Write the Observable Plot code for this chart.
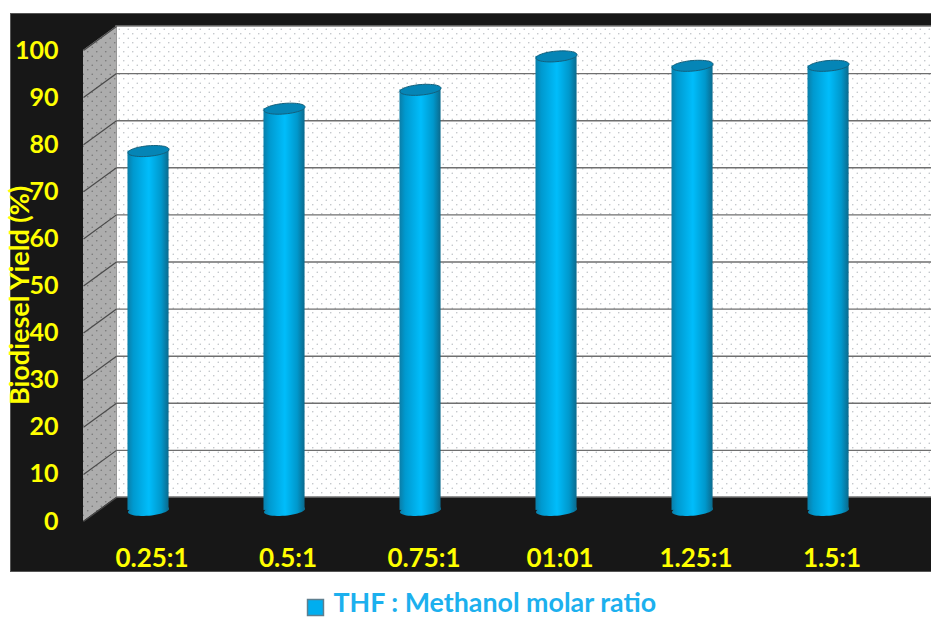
<!DOCTYPE html>
<html>
<head>
<meta charset="utf-8">
<script src="https://cdn.jsdelivr.net/npm/d3@7"></script>
<script src="https://cdn.jsdelivr.net/npm/@observablehq/plot@0.6"></script>
<style>
  html, body { margin: 0; background: #fff; }
  svg { display: block; }
</style>
</head>
<body>
<div id="chart"></div>
<script>
const categories = ["0.25:1", "0.5:1", "0.75:1", "01:01", "1.25:1", "1.5:1"];
const yieldPercent = [76.3, 85.3, 89.3, 96.4, 94.4, 94.4];
const yTicks = [0, 10, 20, 30, 40, 50, 60, 70, 80, 90, 100];
const seriesName = "THF : Methanol molar ratio";

// Chart box in data units: x counts categories, y is percent.
const xMin = -0.478, xMax = 5.757;
const depthX = 0.2426, depthY = 5.1;   // shift from the front plane to the back wall
const lift = 2.35;                     // cylinders stand part way into the floor
const halfWidth = 0.151;

const font = "Lato, sans-serif";
const yellow = "#ffff00";

const rows = categories.map((name, i) => ({name, i, value: yieldPercent[i]}));

// A flat, slightly tilted ellipse used for the ends of each cylinder.
const tiltedEllipse = {
  draw(ctx, size) {
    const a = Math.sqrt(size / Math.PI), b = a * 0.255, t = -5 * Math.PI / 180;
    for (let k = 0; k <= 48; ++k) {
      const u = k / 48 * 2 * Math.PI;
      const ex = a * Math.cos(u), ey = b * Math.sin(u);
      const px = ex * Math.cos(t) - ey * Math.sin(t), py = ex * Math.sin(t) + ey * Math.cos(t);
      k ? ctx.lineTo(px, py) : ctx.moveTo(px, py);
    }
    ctx.closePath();
  }
};

// Shared paint servers: dotted wall patterns and the cylinder shading.
function paints() {
  const defs = d3.create("svg:defs");
  const dotted = (id, size, bg, dot, r) => {
    const p = defs.append("pattern").attr("id", id).attr("patternUnits", "userSpaceOnUse")
      .attr("width", size).attr("height", size);
    p.append("rect").attr("width", size).attr("height", size).attr("fill", bg);
    p.append("circle").attr("cx", size / 4).attr("cy", size / 4).attr("r", r).attr("fill", dot);
    p.append("circle").attr("cx", size * 3 / 4).attr("cy", size * 3 / 4).attr("r", r).attr("fill", dot);
  };
  dotted("wallDots", 9, "#ffffff", "#b9bdc2", 0.75);
  dotted("sideDots", 9, "#adadad", "#777777", 0.8);
  const g = defs.append("linearGradient").attr("id", "cylinder");
  [[0, "#0a7ea8"], [0.14, "#0099cf"], [0.52, "#00bdfb"], [0.82, "#0098cc"], [1, "#0b6a8d"]]
    .forEach(([o, c]) => g.append("stop").attr("offset", o).attr("stop-color", c));
  return defs.node();
}

const chart = Plot.plot({
  width: 931,
  height: 617,
  marginLeft: 83,
  marginRight: 0,
  marginTop: 50,
  marginBottom: 96,
  style: {background: "transparent", fontFamily: font},
  x: {domain: [xMin, xMax]},
  y: {domain: [0, 100]},
  marks: [
    paints,
    // dark surround and floor
    Plot.frame({fill: "#171717", stroke: "#555", insetLeft: -73, insetTop: -37, insetBottom: -50}),
    // back wall
    Plot.rect([0], {x1: () => xMin + depthX, x2: () => xMax + 0.3, y1: () => depthY, y2: () => 100 + depthY,
      fill: "url(#wallDots)", stroke: "#777", strokeWidth: 1.5}),
    // side wall
    Plot.areaY([0, 1], {x: d => xMin + d * depthX, y1: d => d * depthY, y2: d => 100 + d * depthY,
      fill: "url(#sideDots)"}),
    // gridlines on the back wall and their run down the side wall
    Plot.link(yTicks.slice(1, -1), {x1: () => xMin + depthX, x2: () => xMax, y1: d => d + depthY, y2: d => d + depthY,
      stroke: "#6f6f6f", strokeWidth: 1.4}),
    Plot.link(yTicks, {x1: () => xMin, x2: () => xMin + depthX, y1: d => d, y2: d => d + depthY,
      stroke: "#4a4a4a", strokeWidth: 1.2}),
    // cylinders: base, body, lid
    Plot.dot(rows, {x: "i", y: () => lift, r: 20.6, symbol: tiltedEllipse, fill: "url(#cylinder)"}),
    Plot.rect(rows, {x1: d => d.i - halfWidth, x2: d => d.i + halfWidth, y1: () => lift, y2: d => d.value + lift,
      fill: "url(#cylinder)"}),
    Plot.dot(rows, {x: "i", y: d => d.value + lift, r: 20.6, symbol: tiltedEllipse,
      fill: "#0585b6", stroke: "#14607c", strokeWidth: 1}),
    // axes
    Plot.axisY({ticks: yTicks, tickSize: 0, tickPadding: 25, label: null, fill: yellow,
      fontSize: 25, fontWeight: 700, fontFamily: font}),
    Plot.axisX({ticks: categories.map((_, i) => i), tickFormat: i => categories[i], tickSize: 0, tickPadding: 27,
      dx: 3.5, label: null, fill: yellow, fontSize: 26, fontWeight: 700, fontFamily: font}),
    Plot.text(["Biodiesel Yield (%)"], {frameAnchor: "left", dx: -63, y: () => 48, rotate: -90, text: d => d,
      textAnchor: "middle", fill: yellow, fontSize: 27, fontWeight: 700, fontFamily: font}),
    // series key under the panel
    Plot.dot([seriesName], {frameAnchor: "bottom-left", dx: 232, dy: 86, symbol: "square", r: 9,
      fill: "#00aeef", stroke: "#5f7f8f", strokeWidth: 1.5}),
    Plot.text([seriesName], {frameAnchor: "bottom-left", dx: 250, dy: 82, text: d => d, textAnchor: "start",
      lineAnchor: "middle", fill: "#1cb0ee", fontSize: 26.8, fontWeight: 700, fontFamily: font})
  ]
});
document.getElementById("chart").append(chart);
</script>
</body>
</html>
